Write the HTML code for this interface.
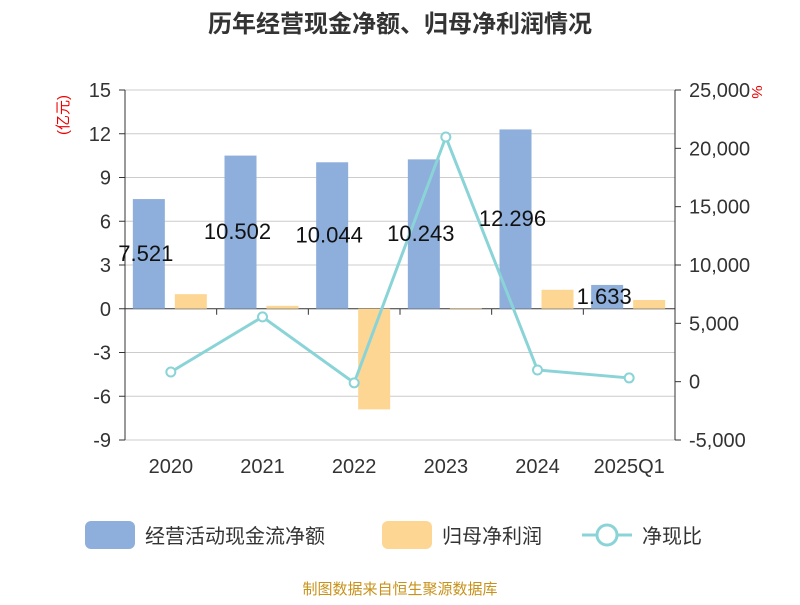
<!DOCTYPE html>
<html><head><meta charset="utf-8"><style>
body{margin:0;background:#fff}
svg{font-family:"Liberation Sans","Noto Sans CJK SC",sans-serif}
</style></head><body>
<svg id="chart" width="800" height="600" viewBox="0 0 800 600" xmlns="http://www.w3.org/2000/svg">
<text x="400" y="32" text-anchor="middle" font-size="24" font-weight="bold" fill="#333">历年经营现金净额、归母净利润情况</text>
<text transform="translate(68,115) rotate(-90)" text-anchor="middle" font-size="15" fill="#e00">(亿元)</text>
<text transform="translate(752,92) rotate(90)" text-anchor="middle" font-size="15" fill="#e00">%</text>
<g id="grid"></g><g id="bars"></g><g id="line"></g><g id="axes"></g><g id="labels"></g>
<g>
<rect x="85" y="521" width="50" height="28" rx="6" fill="#8eaedb"/>
<text x="145" y="543" font-size="20" fill="#333">经营活动现金流净额</text>
<rect x="382" y="521" width="50" height="28" rx="6" fill="#fdd694"/>
<text x="442" y="543" font-size="20" fill="#333">归母净利润</text>
<line x1="582" y1="535" x2="632" y2="535" stroke="#8ad4d8" stroke-width="3"/>
<circle cx="607" cy="535" r="10" fill="#fff" stroke="#8ad4d8" stroke-width="3"/>
<text x="642" y="543" font-size="20" fill="#333">净现比</text>
</g>
<text x="400" y="594" text-anchor="middle" font-size="15" fill="#c8921a">制图数据来自恒生聚源数据库</text>
</svg>
<script>
const categories=["2020","2021","2022","2023","2024","2025Q1"];
const cashflow=[7.521,10.502,10.044,10.243,12.296,1.633];
const profit=[1.0,0.2,-6.9,0.05,1.3,0.6];
const ratio=[830,5550,-100,20970,1000,320];
const leftTicks=[-9,-6,-3,0,3,6,9,12,15];
const rightTicks=[-5000,0,5000,10000,15000,20000,25000];
const NS="http://www.w3.org/2000/svg";
const L=125,R=675,T=90,B=440;
const yL=v=>T+(15-v)/24*(B-T);
const yR=v=>T+(25000-v)/30000*(B-T);
const bw=(R-L)/categories.length;
const xc=i=>L+bw*(i+0.5);
function mk(p,tag,attrs){const e=document.createElementNS(NS,tag);for(const k in attrs)e.setAttribute(k,attrs[k]);document.getElementById(p).appendChild(e);return e;}
leftTicks.forEach(t=>{
 const g=mk("grid","line",{x1:L,x2:R,y1:yL(t),y2:yL(t),stroke:t===0?"#333":"#ccc","stroke-width":1});
 
 
 const tx=mk("axes","text",{x:L-14,y:yL(t)+7,"text-anchor":"end","font-size":20,fill:"#333"});tx.textContent=t;
 
 
 const tk=mk("axes","line",{x1:L-6,x2:L,y1:yL(t),y2:yL(t),stroke:"#333"});
 
 
});
rightTicks.forEach(t=>{
 const tx=mk("axes","text",{x:R+14,y:yR(t)+7,"font-size":20,fill:"#333"});tx.textContent=t.toLocaleString("en-US");
 
 
 const tk=mk("axes","line",{x1:R,x2:R+6,y1:yR(t),y2:yR(t),stroke:"#333"});
 
 
});
let a=mk("axes","line",{x1:L,x2:L,y1:T,y2:B,stroke:"#333"});


a=mk("axes","line",{x1:R,x2:R,y1:T,y2:B,stroke:"#333"});


categories.forEach((c,i)=>{
 const tk=mk("axes","line",{x1:L+bw*i,x2:L+bw*i,y1:yL(0),y2:yL(0)+6,stroke:"#333"});
 
 
 const tx=mk("axes","text",{x:xc(i),y:473,"text-anchor":"middle","font-size":20,fill:"#333"});tx.textContent=c;
 
 
 const v=cashflow[i];
 const b=mk("bars","rect",{x:xc(i)-38,width:32,y:Math.min(yL(v),yL(0)),height:Math.abs(yL(v)-yL(0)),fill:"#8eaedb"});
 
 
 const p=profit[i];
 const b2=mk("bars","rect",{x:xc(i)+4,width:32,y:Math.min(yL(p),yL(0)),height:Math.abs(yL(p)-yL(0)),fill:"#fdd694"});
 
 
 const lb=mk("labels","text",{x:xc(i)-25,y:(yL(v)+yL(0))/2+7,"text-anchor":"middle","font-size":22,fill:"#111"});lb.textContent=v.toFixed(3);
 
 
});
const pts=ratio.map((v,i)=>xc(i)+","+yR(v)).join(" ");
const pl=mk("line","polyline",{points:pts,fill:"none",stroke:"#8ad4d8","stroke-width":3});


ratio.forEach((v,i)=>{
 const c=mk("line","circle",{cx:xc(i),cy:yR(v),r:4.5,fill:"#fff",stroke:"#8ad4d8","stroke-width":2});
 
 
});
</script>
</body></html>
